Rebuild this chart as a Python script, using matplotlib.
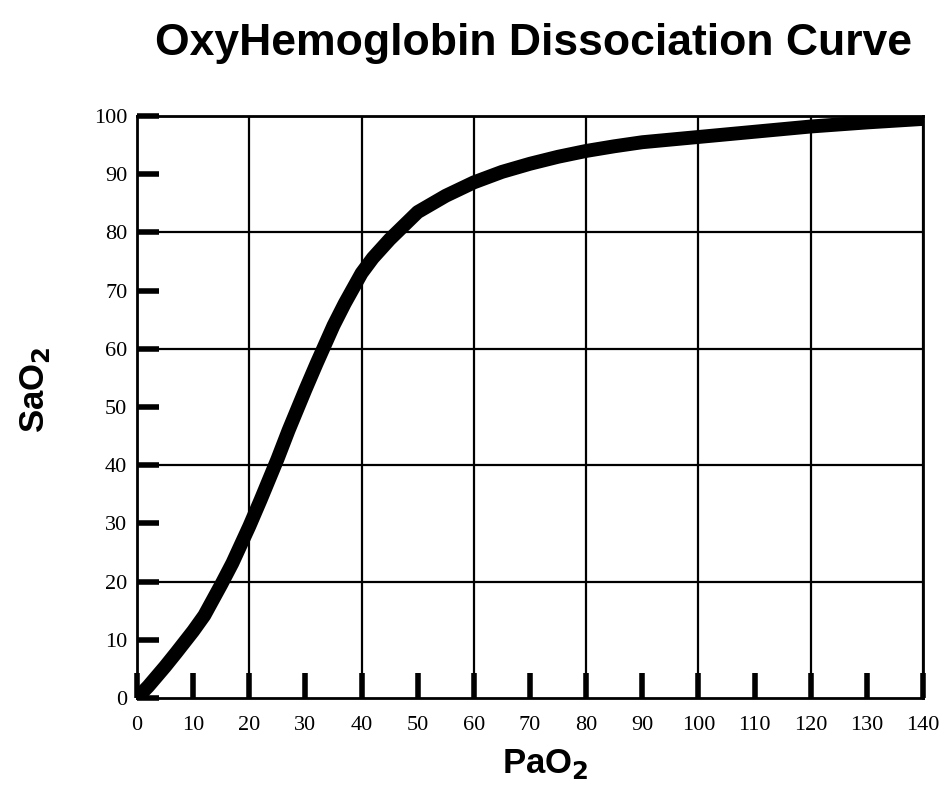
import matplotlib
matplotlib.use("Agg")
import matplotlib.pyplot as plt
import numpy as np

# Data
pao2 = [0, 2, 5, 7, 10, 12, 15, 17, 20, 22, 25, 27, 30, 32, 35, 37, 40, 42, 45,
        50, 55, 60, 65, 70, 75, 80, 85, 90, 100, 110, 120, 130, 140]
sao2 = [0, 2, 5.4, 7.8, 11.5, 14.2, 19.5, 23.2, 29.5, 34, 41, 46, 53, 57.5, 64, 67.8, 73, 75.6, 78.8,
        83.5, 86.3, 88.6, 90.4, 91.8, 93, 94, 94.8, 95.5, 96.4, 97.3, 98.2, 98.9, 99.5]
x_ticks = list(range(0, 141, 10))
y_ticks = list(range(0, 101, 10))
x_grid = list(range(20, 141, 20))
y_grid = list(range(20, 101, 20))
title = "OxyHemoglobin Dissociation Curve"

fig = plt.figure(figsize=(9.39, 7.98), dpi=100)
ax = fig.add_axes([0.1459, 0.1253, 0.983 - 0.1459, 0.8546 - 0.1253])

for xv in x_grid:
    ax.axvline(xv, color="black", lw=1.6, zorder=1)
for yv in y_grid:
    ax.axhline(yv, color="black", lw=1.6, zorder=1)

ax.plot(pao2, sao2, color="black", lw=10, solid_capstyle="round",
        solid_joinstyle="round", zorder=3)

ax.set_xlim(0, 140)
ax.set_ylim(0, 100)
ax.set_xticks(x_ticks)
ax.set_yticks(y_ticks)
ax.set_xticklabels([str(v) for v in x_ticks], family="Liberation Serif", fontsize=16)
ax.set_yticklabels([str(v) for v in y_ticks], family="Liberation Serif", fontsize=16)
ax.tick_params(axis="x", direction="in", length=18, width=4, pad=13, colors="black")
ax.tick_params(axis="y", direction="in", length=16, width=4, pad=7, colors="black")
for s in ax.spines.values():
    s.set_linewidth(2)
    s.set_color("black")

ax.set_xlabel(r"PaO$_\mathbf{2}$", family="Liberation Sans", fontweight="bold",
              fontsize=25, labelpad=14)
ax.xaxis.set_label_coords(0.52, -0.085)
ax.set_ylabel(r"SaO$_\mathbf{2}$", family="Liberation Sans", fontweight="bold",
              fontsize=25)
ax.yaxis.set_label_coords(-0.108, 0.53)
fig.text(0.568, 0.945, title, ha="center", va="center", family="Liberation Sans",
         fontweight="bold", fontsize=32)

fig.savefig("out.png", dpi=100)
